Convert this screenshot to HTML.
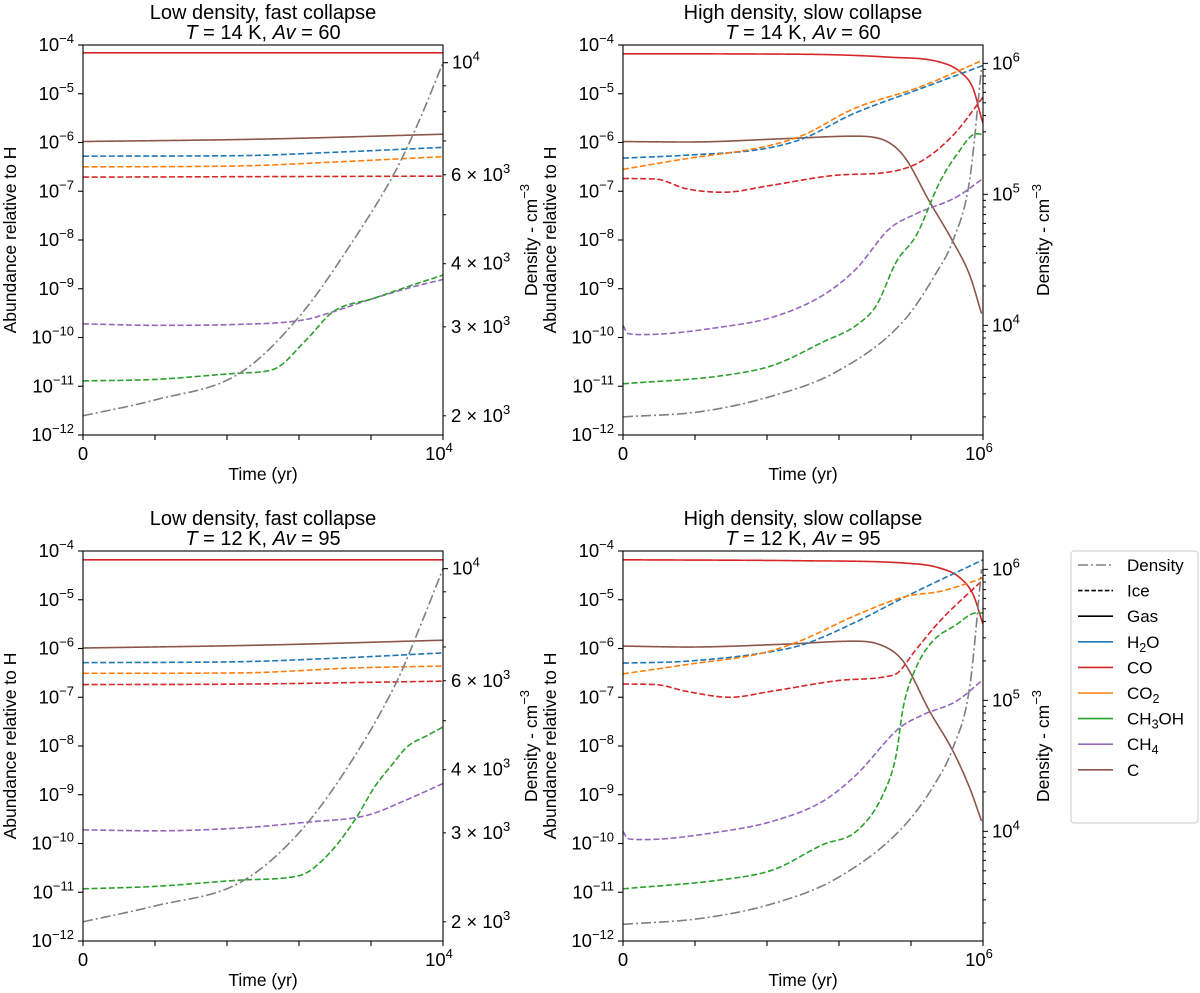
<!DOCTYPE html>
<html><head><meta charset="utf-8">
<style>
body{margin:0;background:#fff;}
svg{display:block;font-family:"Liberation Sans","DejaVu Sans",sans-serif;}
</style></head>
<body>
<svg id="chart" width="1200" height="993" viewBox="0 0 1200 993" xmlns="http://www.w3.org/2000/svg"></svg>
<script>
// ---------- DATA (log10 abundance relative to H; density in cm^-3; time in yr) ----------
const TL_CO_gas_t = [0, 10000];
const TL_CO_gas = [-4.16, -4.16];
const TL_C_gas_t = [0, 5000, 10000];
const TL_C_gas = [-5.98, -5.93, -5.83];
const TL_H2O_t = [0, 4360, 7000, 10000];
const TL_H2O = [-6.28, -6.27, -6.2, -6.10];
const TL_CO2_t = [0, 4360, 7000, 10000];
const TL_CO2 = [-6.50, -6.48, -6.40, -6.29];
const TL_CO_ice_t = [0, 10000];
const TL_CO_ice = [-6.71, -6.69];
const TL_CH4_t = [0, 2000, 4360, 6200, 6950, 8060, 9170, 10000];
const TL_CH4 = [-9.72, -9.75, -9.73, -9.63, -9.47, -9.20, -8.96, -8.81];
const TL_CH3OH_t = [0, 2000, 4360, 5300, 6200, 6950, 8060, 9170, 10000];
const TL_CH3OH = [-10.89, -10.86, -10.73, -10.65, -10.05, -9.47, -9.20, -8.92, -8.72];
const TL_dens_t = [0, 2000, 4360, 6000, 7400, 8700, 9350, 10000];
const TL_dens = [2000, 2150, 2430, 3140, 4330, 6140, 7710, 10000];

const TR_CO_gas_t = [0, 500000, 740000, 880000, 936000, 973000, 996000, 1000000];
const TR_CO_gas = [-4.18, -4.19, -4.25, -4.35, -4.55, -4.90, -5.51, -5.6];
const TR_C_gas_t = [0, 180000, 454000, 640000, 713000, 778000, 852000, 917000, 963000, 996000];
const TR_C_gas = [-5.98, -5.99, -5.92, -5.87, -5.92, -6.26, -7.22, -8.04, -8.72, -9.51];
const TR_H2O_t = [0, 177000, 390000, 500000, 640000, 825000, 1000000];
const TR_H2O = [-6.32, -6.26, -6.13, -5.92, -5.41, -4.90, -4.42];
const TR_CO2_t = [0, 177000, 390000, 500000, 640000, 825000, 1000000];
const TR_CO2 = [-6.55, -6.33, -6.09, -5.85, -5.31, -4.86, -4.31];
const TR_CO_ice_t = [0, 90000, 177000, 280000, 410000, 595000, 735000, 825000, 917000, 1000000];
const TR_CO_ice = [-6.74, -6.75, -6.95, -7.02, -6.88, -6.67, -6.61, -6.40, -5.85, -5.07];
const TR_CH4_t = [0, 14000, 55000, 278000, 417000, 556000, 648000, 740000, 815000, 926000, 1000000];
const TR_CH4 = [-9.75, -9.92, -9.94, -9.78, -9.58, -9.13, -8.59, -7.77, -7.46, -7.12, -6.74];
const TR_CH3OH_t = [0, 278000, 417000, 556000, 648000, 704000, 759000, 815000, 880000, 926000, 982000, 1000000];
const TR_CH3OH = [-10.95, -10.78, -10.57, -10.09, -9.75, -9.34, -8.45, -7.90, -6.81, -6.26, -5.82, -5.84];
const TR_dens_t = [0, 213000, 407000, 593000, 778000, 870000, 917000, 963000, 996000];
const TR_dens = [2000, 2190, 2850, 4430, 10700, 25100, 44700, 129000, 933000];

const BL_CO_gas_t = [0, 10000];
const BL_CO_gas = [-4.18, -4.18];
const BL_C_gas_t = [0, 5000, 10000];
const BL_C_gas = [-5.99, -5.93, -5.83];
const BL_H2O_t = [0, 4400, 7000, 10000];
const BL_H2O = [-6.29, -6.27, -6.2, -6.09];
const BL_CO2_t = [0, 4400, 7500, 10000];
const BL_CO2 = [-6.51, -6.50, -6.40, -6.36];
const BL_CO_ice_t = [0, 4400, 10000];
const BL_CO_ice = [-6.74, -6.73, -6.67];
const BL_CH4_t = [0, 2000, 4400, 6250, 7900, 9000, 10000];
const BL_CH4 = [-9.72, -9.74, -9.68, -9.56, -9.42, -9.10, -8.77];
const BL_CH3OH_t = [0, 2000, 4400, 6000, 6340, 7000, 7600, 8100, 8600, 9000, 9600, 10000];
const BL_CH3OH = [-10.93, -10.88, -10.75, -10.66, -10.54, -10.07, -9.46, -8.84, -8.37, -8.02, -7.77, -7.61];
const BL_dens_t = [0, 2000, 4400, 6000, 7450, 8750, 9400, 10000];
const BL_dens = [2000, 2150, 2400, 3000, 4150, 6050, 7800, 10000];

const BR_CO_gas_t = [0, 500000, 787000, 880000, 936000, 973000, 996000, 1000000];
const BR_CO_gas = [-4.18, -4.20, -4.25, -4.35, -4.55, -4.90, -5.41, -5.5];
const BR_C_gas_t = [0, 180000, 454000, 640000, 713000, 778000, 852000, 917000, 963000, 996000];
const BR_C_gas = [-5.95, -5.97, -5.91, -5.85, -5.92, -6.26, -7.29, -8.11, -8.86, -9.54];
const BR_H2O_t = [0, 177000, 390000, 500000, 640000, 787000, 1000000];
const BR_H2O = [-6.30, -6.26, -6.09, -5.92, -5.48, -4.93, -4.18];
const BR_CO2_t = [0, 177000, 390000, 500000, 640000, 787000, 880000, 946000, 1000000];
const BR_CO2 = [-6.52, -6.33, -6.09, -5.82, -5.34, -4.93, -4.83, -4.69, -4.55];
const BR_CO_ice_t = [0, 90000, 177000, 298000, 410000, 595000, 735000, 763000, 810000, 880000, 1000000];
const BR_CO_ice = [-6.73, -6.74, -6.88, -7.0, -6.88, -6.66, -6.57, -6.50, -6.06, -5.44, -4.59];
const BR_CH4_t = [0, 14000, 55000, 278000, 417000, 556000, 648000, 768000, 833000, 926000, 1000000];
const BR_CH4 = [-9.75, -9.90, -9.92, -9.75, -9.54, -9.13, -8.59, -7.63, -7.36, -7.08, -6.64];
const BR_CH3OH_t = [0, 278000, 417000, 556000, 648000, 722000, 759000, 778000, 806000, 852000, 926000, 982000, 1000000];
const BR_CH3OH = [-10.93, -10.74, -10.54, -10.02, -9.75, -9.0, -8.18, -7.22, -6.53, -5.92, -5.51, -5.27, -5.27];
const BR_dens_t = [0, 213000, 407000, 593000, 778000, 870000, 917000, 963000, 996000];
const BR_dens = [1950, 2160, 2760, 4370, 10800, 24000, 43700, 126000, 1000000];

const xTickLabelsLow = ["0", "10", "4"];
const xTickLabelsHigh = ["0", "10", "6"];
const yTickExps = [-4, -5, -6, -7, -8, -9, -10, -11, -12];
const densLowLabeled = [2000, 3000, 4000, 6000];
const densLowMinor = [5000, 7000, 8000, 9000];
const densHighMajor = [4, 5, 6];

// ---------- RENDER ----------
const NS = "http://www.w3.org/2000/svg";
const svg = document.getElementById("chart");
const COL = {H2O:"#1f77b4", CO:"#d62728", CO2:"#ff7f0e", CH3OH:"#2ca02c", CH4:"#9467bd", C:"#8c564b", dens:"#7f7f7f"};
const TICKFS = 18.5, SUPFS = 13, TITLEFS = 20, LABFS = 17.5;

function mk(tag, attrs, parent){
  const e = document.createElementNS(NS, tag);
  for (const k in attrs) e.setAttribute(k, attrs[k]);
  (parent || svg).appendChild(e);
  return e;
}
function monotone(xs, ys){
  const n = xs.length;
  if (n < 2) return () => ys[0];
  const d = [], m = new Array(n);
  for (let i=0;i<n-1;i++) d.push((ys[i+1]-ys[i])/(xs[i+1]-xs[i]));
  m[0]=d[0]; m[n-1]=d[n-2];
  for (let i=1;i<n-1;i++){ m[i] = (d[i-1]*d[i]<=0)?0:(d[i-1]+d[i])/2; }
  for (let i=0;i<n-1;i++){
    if (d[i]===0){m[i]=0;m[i+1]=0;continue;}
    const a=m[i]/d[i], b=m[i+1]/d[i], s=a*a+b*b;
    if (s>9){const t=3/Math.sqrt(s); m[i]=t*a*d[i]; m[i+1]=t*b*d[i];}
  }
  return function(x){
    let i=0; while(i<n-2 && x>xs[i+1]) i++;
    const h=xs[i+1]-xs[i], t=(x-xs[i])/h;
    const h00=2*t*t*t-3*t*t+1, h10=t*t*t-2*t*t+t, h01=-2*t*t*t+3*t*t, h11=t*t*t-t*t;
    return h00*ys[i]+h10*h*m[i]+h01*ys[i+1]+h11*h*m[i+1];
  };
}

function drawPanel(p){
  const g = mk("g", {});
  
  
  const x0=p.x0, x1=p.x0+360, y0=p.y0, y1=p.y0+390;
  const xs = t => x0 + t/p.tmax*(x1-x0);
  const ys = l => y0 + (-4 - l)/8*(y1-y0);
  const yd = v => y0 + (p.dmax - Math.log10(v))/(p.dmax-p.dmin)*(y1-y0);

  const clip = mk("clipPath", {id:"clip-"+p.name}, g);
  mk("rect",{x:x0,y:y0,width:360,height:390},clip);

  const lines = mk("g",{"clip-path":"url(#clip-"+p.name+")"},g);
  function series(ts, vs, color, dash, name, isDens){
    const f = monotone(ts, isDens ? vs.map(v=>Math.log10(v)) : vs);
    const tEnd = ts[ts.length-1];
    let d="";
    for(let i=0;i<=300;i++){
      const t = tEnd*i/300;
      const v = f(t);
      const X = xs(t), Y = isDens ? yd(Math.pow(10,v)) : ys(v);
      d += (i?"L":"M")+X.toFixed(2)+","+Y.toFixed(2);
    }
    const path = mk("path",{d:d,fill:"none",stroke:color,"stroke-width":1.6,"stroke-dasharray":dash||"none"},lines);
    
    
  }
  const s = p.s;
  series(s.CO_gas_t, s.CO_gas, COL.CO, null, "co-gas-line");
  series(s.C_gas_t, s.C_gas, COL.C, null, "c-gas-line");
  series(s.H2O_t, s.H2O, COL.H2O, "6,2.6", "h2o-ice-line");
  series(s.CO2_t, s.CO2, COL.CO2, "6,2.6", "co2-ice-line");
  series(s.CO_ice_t, s.CO_ice, COL.CO, "6,2.6", "co-ice-line");
  series(s.CH4_t, s.CH4, COL.CH4, "6,2.6", "ch4-ice-line");
  series(s.CH3OH_t, s.CH3OH, COL.CH3OH, "6,2.6", "ch3oh-ice-line");
  series(s.dens_t, s.dens, COL.dens, "10,3,2,3", "density-line", true);

  const fr = mk("rect",{x:x0,y:y0,width:360,height:390,fill:"none",stroke:"#000","stroke-width":1.1},g);
  
  

  yTickExps.forEach(e=>{
    const Y = ys(e);
    mk("line",{x1:x0-5,x2:x0,y1:Y,y2:Y,stroke:"#000","stroke-width":1.1},g);
    const t = mk("text",{x:x0-9,y:Y+6,"text-anchor":"end","font-size":TICKFS},g);
    
    
    t.textContent = "10";
    const sp = mk("tspan",{dy:-8,"font-size":SUPFS},t); sp.textContent = "\u2212"+(-e);
  });
  for(let i=0;i<=5;i++){
    const X = x0 + i*72;
    mk("line",{x1:X,x2:X,y1:y1,y2:y1+5,stroke:"#000","stroke-width":1.1},g);
  }
  const xl0 = mk("text",{x:x0,y:y1+25,"text-anchor":"middle","font-size":TICKFS},g);
  
  
  xl0.textContent = p.xlab[0];
  const xl1 = mk("text",{x:x1-4,y:y1+25,"text-anchor":"middle","font-size":TICKFS},g);
  
  
  xl1.textContent = p.xlab[1];
  const sp1 = mk("tspan",{dy:-8,"font-size":SUPFS},xl1); sp1.textContent = p.xlab[2];

  if (p.low){
    densLowLabeled.forEach(v=>{
      const Y=yd(v);
      mk("line",{x1:x1,x2:x1+3,y1:Y,y2:Y,stroke:"#000","stroke-width":1},g);
      const t = mk("text",{x:x1+8,y:Y+6,"font-size":TICKFS},g);
      
      
      t.textContent = (v/1000)+" \u00d7 10";
      const sp = mk("tspan",{dy:-8,"font-size":SUPFS},t); sp.textContent="3";
    });
    densLowMinor.forEach(v=>{
      const Y=yd(v);
      mk("line",{x1:x1,x2:x1+3,y1:Y,y2:Y,stroke:"#000","stroke-width":1},g);
    });
    const Y=yd(10000);
    mk("line",{x1:x1,x2:x1+5,y1:Y,y2:Y,stroke:"#000","stroke-width":1.1},g);
    const t = mk("text",{x:x1+9,y:Y+6,"font-size":TICKFS},g);
    
    
    t.textContent="10";
    const sp = mk("tspan",{dy:-8,"font-size":SUPFS},t); sp.textContent="4";
  } else {
    for(let e=3;e<=6;e++){
      for(let k=1;k<10;k++){
        const v=k*Math.pow(10,e);
        const lv=Math.log10(v);
        if(lv<p.dmin||lv>p.dmax) continue;
        const Y=yd(v);
        mk("line",{x1:x1,x2:x1+(k===1?5:3),y1:Y,y2:Y,stroke:"#000","stroke-width":1},g);
      }
    }
    densHighMajor.forEach(e=>{
      const Y=yd(Math.pow(10,e));
      const t = mk("text",{x:x1+9,y:Y+6,"font-size":TICKFS},g);
      
      
      t.textContent="10";
      const sp = mk("tspan",{dy:-8,"font-size":SUPFS},t); sp.textContent=String(e);
    });
  }

  const t1 = mk("text",{x:(x0+x1)/2,y:y0-26,"text-anchor":"middle","font-size":TITLEFS},g);
  
  
  t1.textContent = p.title;
  const t2 = mk("text",{x:(x0+x1)/2,y:y0-6,"text-anchor":"middle","font-size":TITLEFS},g);
  
  
  const a = mk("tspan",{"font-style":"italic"},t2); a.textContent="T";
  const b = mk("tspan",{},t2); b.textContent=" = "+p.T+" K, ";
  const c = mk("tspan",{"font-style":"italic"},t2); c.textContent="Av";
  const d2 = mk("tspan",{},t2); d2.textContent=" = "+p.Av;

  const xt = mk("text",{x:(x0+x1)/2,y:y1+45,"text-anchor":"middle","font-size":LABFS},g);
  
  
  xt.textContent="Time (yr)";
  const ly = mk("text",{x:0,y:0,"text-anchor":"middle","font-size":LABFS,transform:"translate("+(x0-67)+","+((y0+y1)/2)+") rotate(-90)"},g);
  
  
  ly.textContent="Abundance relative to H";
  const ry = mk("text",{x:0,y:0,"text-anchor":"middle","font-size":LABFS,transform:"translate("+(x1+(p.low?94:66))+","+((y0+y1)/2)+") rotate(-90)"},g);
  
  
  ry.textContent="Density - cm";
  const rs = mk("tspan",{dy:-8,"font-size":SUPFS},ry); rs.textContent="\u22123";
}

function bundle(pfx){
  return {
    CO_gas_t:eval(pfx+"_CO_gas_t"), CO_gas:eval(pfx+"_CO_gas"),
    C_gas_t:eval(pfx+"_C_gas_t"), C_gas:eval(pfx+"_C_gas"),
    H2O_t:eval(pfx+"_H2O_t"), H2O:eval(pfx+"_H2O"),
    CO2_t:eval(pfx+"_CO2_t"), CO2:eval(pfx+"_CO2"),
    CO_ice_t:eval(pfx+"_CO_ice_t"), CO_ice:eval(pfx+"_CO_ice"),
    CH4_t:eval(pfx+"_CH4_t"), CH4:eval(pfx+"_CH4"),
    CH3OH_t:eval(pfx+"_CH3OH_t"), CH3OH:eval(pfx+"_CH3OH"),
    dens_t:eval(pfx+"_dens_t"), dens:eval(pfx+"_dens")
  };
}

drawPanel({name:"panel-top-left",x0:83,y0:45,tmax:1e4,low:true,dmin:3.263,dmax:4.035,xlab:xTickLabelsLow,title:"Low density, fast collapse",T:14,Av:60,s:bundle("TL")});
drawPanel({name:"panel-top-right",x0:623,y0:45,tmax:1e6,low:false,dmin:3.163,dmax:6.14,xlab:xTickLabelsHigh,title:"High density, slow collapse",T:14,Av:60,s:bundle("TR")});
drawPanel({name:"panel-bottom-left",x0:83,y0:551,tmax:1e4,low:true,dmin:3.263,dmax:4.035,xlab:xTickLabelsLow,title:"Low density, fast collapse",T:12,Av:95,s:bundle("BL")});
drawPanel({name:"panel-bottom-right",x0:623,y0:551,tmax:1e6,low:false,dmin:3.163,dmax:6.14,xlab:xTickLabelsHigh,title:"High density, slow collapse",T:12,Av:95,s:bundle("BR")});

const lg = mk("g",{});


mk("rect",{x:1071,y:551,width:127,height:272,rx:3,fill:"#fff",stroke:"#ccc","stroke-width":1},lg);
const legItems = [
  ["Density","#7f7f7f","10,3,2,3",null],
  ["Ice","#000","4.5,2.2",null],
  ["Gas","#000",null,null],
  ["H","#1f77b4",null,["2","O"]],
  ["CO","#d62728",null,null],
  ["CO","#ff7f0e",null,["2",""]],
  ["CH","#2ca02c",null,["3","OH"]],
  ["CH","#9467bd",null,["4",""]],
  ["C","#8c564b",null,null]
];
legItems.forEach((it,i)=>{
  const Y = 565 + i*25.6;
  const e = mk("g",{},lg);
  
  
  mk("line",{x1:1078,x2:1113,y1:Y,y2:Y,stroke:it[1],"stroke-width":1.6,"stroke-dasharray":it[2]||"none"},e);
  const t = mk("text",{x:1127,y:Y+6,"font-size":17},e);
  t.textContent = it[0];
  if(it[3]){
    const s1 = mk("tspan",{dy:4,"font-size":12.5},t); s1.textContent=it[3][0];
    if(it[3][1]){ const s2 = mk("tspan",{dy:-4},t); s2.textContent=it[3][1]; }
  }
});
</script>
</body></html>
